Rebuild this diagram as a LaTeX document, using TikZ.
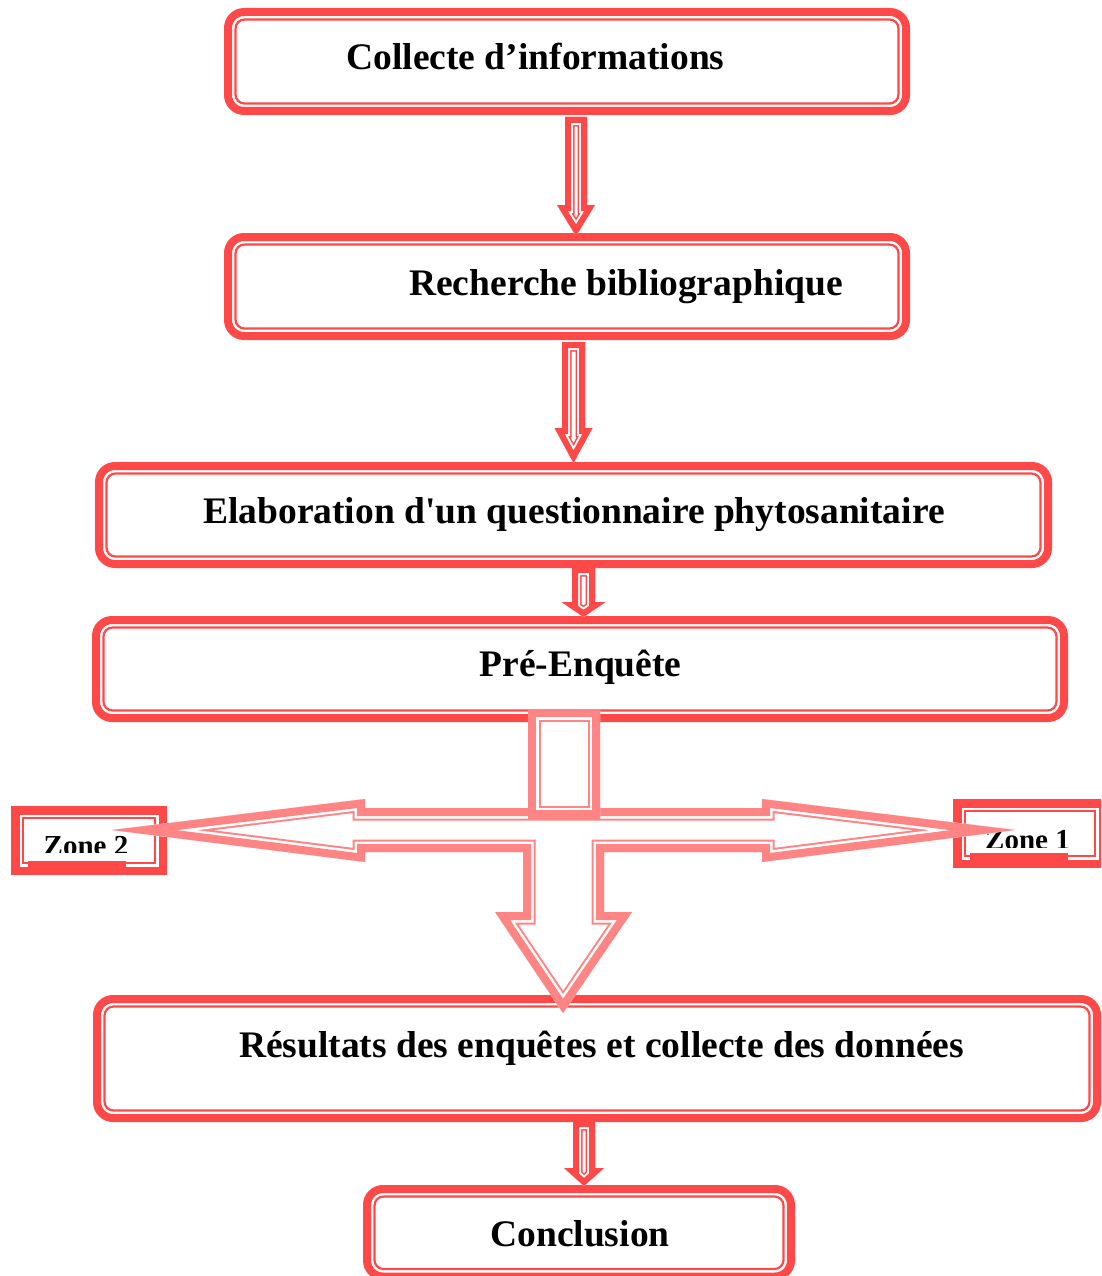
\documentclass[tikz,border=0pt]{standalone}
\usepackage{fontspec}
\setmainfont{Liberation Serif}
\newfontfamily\plainserif{Liberation Serif}
\usetikzlibrary{calc}
\definecolor{boxred}{RGB}{255,72,72}
\definecolor{crosspink}{RGB}{255,132,132}

\tikzset{
  ttbox/.style={draw=boxred, line width=8pt, rounded corners=16pt, inner sep=0pt, outer sep=0pt, fill=white,
    path picture={\draw[boxred, line width=2.2pt, rounded corners=9pt]
      ([shift={(7.5pt,-7.5pt)}]path picture bounding box.north west) rectangle
      ([shift={(-7.5pt,7.5pt)}]path picture bounding box.south east);}},
  zonebox/.style={draw=boxred, line width=8.5pt, inner sep=0pt, outer sep=0pt, fill=white,
    path picture={\draw[boxred, line width=2pt]
      ([shift={(7.5pt,-7.5pt)}]path picture bounding box.north west) rectangle
      ([shift={(-7.5pt,7.5pt)}]path picture bounding box.south east);}},
  lbl/.style={font=\fontsize{37.5}{40}\selectfont\bfseries, anchor=base, inner sep=0pt},
  zlbl/.style={font=\fontsize{29}{32}\selectfont\bfseries, anchor=base, inner sep=0pt},
}

% outline with thick outer band, white gap, thin inner line
\newcommand\ttdraw[5]{%
  \begin{scope}
    \clip #5;
    \fill[white] #5;
    \draw[#1, line width=#2] #5;
    \draw[white, line width=#3] #5;
    \draw[#1, line width=#4] #5;
  \end{scope}}

% block arrow pointing down: #1 top, #2 tip, #3 half shaft, #4 half head, #5 head length
\def\blkpath#1#2#3#4#5{let \p1=(#1), \p2=(#2) in
  ({\x1-#3pt},\y1) -- ({\x1+#3pt},\y1) -- ({\x1+#3pt},{\y2+#5pt}) -- ({\x1+#4pt},{\y2+#5pt})
  -- (\x1,\y2) -- ({\x1-#4pt},{\y2+#5pt}) -- ({\x1-#3pt},{\y2+#5pt}) -- cycle}

\def\crosspath{(365,808) -- (762,808) -- (762,799) -- (tipR) -- (762,862) -- (762,852)
  -- (604,852) -- (604,912) -- (632,912) -- (tipD) -- (495,912) -- (523,912) -- (523,852)
  -- (365,852) -- (365,862) -- (tipL) -- (365,799) -- cycle}

\def\stubpath{(528,709) rectangle (600,818)}

\begin{document}
\begin{tikzpicture}[x=1pt, y=-1pt]
\useasboundingbox (0,0) rectangle (1101,1276);
\path[clip] (0,0) rectangle (1101,1276);

% main boxes
\node[ttbox, minimum width=678pt, minimum height=99pt] (b1) at (567,61.5) {};
\node[ttbox, minimum width=678pt, minimum height=99pt] (b2) at (567,286.5) {};
\node[ttbox, minimum width=949pt, minimum height=98pt] (b3) at (573.5,515) {};
\node[ttbox, minimum width=968pt, minimum height=98pt] (b4) at (580,669) {};
\node[ttbox, minimum width=1000pt, minimum height=119pt] (b5) at (597,1058.5) {};
\node[ttbox, minimum width=424pt, minimum height=87.5pt] (b6) at (579,1232.75) {};

% labels
\node[lbl] (t1) at (535.5,70) {Collecte d’informations};
\node[lbl] (t2) at (626,295) {Recherche bibliographique};
\node[lbl] (t3) at (574,523) {Elaboration d{\plainserif\bfseries '}un questionnaire phytosanitaire};
\node[lbl] (t4) at (580.5,676) {Pré-Enquête};
\node[lbl] (t5) at (601.5,1057) {Résultats des enquêtes et collecte des données};
\node[lbl] (t6) at (580,1246) {Conclusion};

% zone boxes
\node[zonebox, minimum width=147.5pt, minimum height=60.5pt] (z2) at (89,840.5) {};
\node[zonebox, minimum width=145.5pt, minimum height=60.5pt] (z1) at (1030,833.5) {};
\begin{scope}
  \clip (0,700) rectangle (300,852.5);
  \node[zlbl] (z2t) at (86,855) {Zone 2};
\end{scope}
\begin{scope}
  \clip (900,700) rectangle (1101,847);
  \node[zlbl] (z1t) at (1027.5,849.5) {Zone 1};
\end{scope}
\fill[boxred] (28,861) rectangle (126,867);
\fill[boxred] (970,853) rectangle (1068,861);

% arrows between boxes
\coordinate (a1t) at ($(b1.south)+(9pt,-6pt)$);
\coordinate (a1b) at ($(b2.north)+(9pt,1pt)$);
\coordinate (a2t) at ($(b2.south)+(6.5pt,-6pt)$);
\coordinate (a2b) at ($(b3.north)+(6.5pt,3pt)$);
\coordinate (a3t) at ($(b3.south)+(10pt,-3pt)$);
\coordinate (a3b) at ($(b4.north)+(10pt,3pt)$);
\coordinate (a5t) at ($(b5.south)+(-13pt,-3pt)$);
\coordinate (a5b) at ($(b6.north)+(-13pt,3pt)$);

\ttdraw{boxred}{19pt}{16pt}{12pt}{\blkpath{a1t}{a1b}{11}{19}{31}}
\ttdraw{boxred}{19pt}{16pt}{12pt}{\blkpath{a2t}{a2b}{11.5}{19}{35}}
\ttdraw{boxred}{19pt}{16pt}{12pt}{\blkpath{a3t}{a3b}{11.5}{22}{15}}
\ttdraw{boxred}{19pt}{16pt}{12pt}{\blkpath{a5t}{a5b}{11}{20}{18}}

% cross arrow from Pre-Enquete to the zones and results
\coordinate (tipL) at ($(z2.center)+(23pt,10.5pt)$);
\coordinate (tipR) at ($(z1.center)+(-15pt,3.5pt)$);
\coordinate (tipD) at ($(b5.north)+(-34pt,-14pt)$);
\ttdraw{crosspink}{25pt}{21pt}{16pt}{\crosspath}
\ttdraw{crosspink}{25pt}{21pt}{16pt}{\stubpath}
\end{tikzpicture}
\end{document}
